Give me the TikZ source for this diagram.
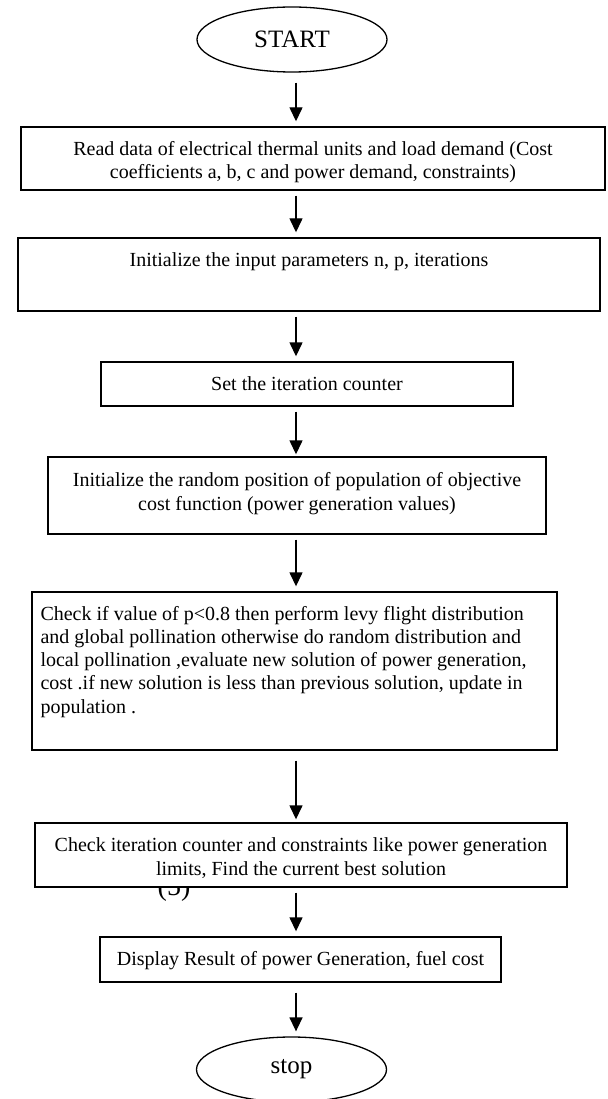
\documentclass[tikz,border=0pt]{standalone}
\usepackage{fontspec}
\setmainfont{Liberation Serif}
\usetikzlibrary{arrows.meta,shapes.geometric}

\newcommand{\boxlines}[3]{\raisebox{#1}[0pt][0pt]{\begin{tabular}[t]{@{}#2@{}}#3\end{tabular}}}

\begin{document}
\begin{tikzpicture}[x=1pt,y=-1pt,
  every node/.style={font=\fontsize{20}{23.3}\selectfont},
  terminal/.style={draw,ellipse,line width=1.3pt,minimum width=190pt,minimum height=65pt,inner sep=0pt,font=\fontsize{25}{30}\selectfont},
  stepbox/.style={draw,rectangle,line width=1.4pt,fill=white,inner sep=0pt},
  arr/.style={-{Triangle[width=13pt,length=14pt]},line width=1.4pt,shorten <=5pt,shorten >=5pt}]

    \useasboundingbox (0,0) rectangle (607,1099);
    \coordinate (axis) at (296,0);

    \node[terminal] (start) at (292,39.5) {START};

    \node[stepbox,minimum width=584pt,minimum height=63pt] (read) at (313,158.5)
        {\boxlines{2.8pt}{c}{Read data of electrical thermal units and load demand (Cost\\
        coefficients a, b, c and power demand, constraints)}};

    \node[stepbox,minimum width=582pt,minimum height=73pt] (init) at (309,274.5)
        {\boxlines{7.8pt}{c}{Initialize the input parameters n, p, iterations}};

    \node[stepbox,minimum width=412pt,minimum height=44pt] (counter) at (307,384)
        {\boxlines{-6pt}{c}{Set the iteration counter}};

    \node[stepbox,minimum width=498pt,minimum height=77pt] (popu) at (297,495.5)
        {\boxlines{8.8pt}{c}{Initialize the random position of population of objective\\
        cost function (power generation values)}};

    \node[stepbox,minimum width=525pt,minimum height=158pt] (pollin) at (294.5,671)
        {\boxlines{51pt}{l}{Check if value of p<0.8 then perform levy flight distribution\\
        and global pollination otherwise do random distribution and\\
        local pollination ,evaluate new solution of power generation,\\
        cost .if new solution is less than previous solution, update in\\
        population .}\rule{22pt}{0pt}};

    % number of the equation, half under the next box
    \node[anchor=base,font=\fontsize{28}{32}\selectfont] (eqno) at (174,895) {(5)};

    \node[stepbox,minimum width=532pt,minimum height=64pt] (check) at (301,855)
        {\boxlines{3.3pt}{c}{Check iteration counter and constraints like power generation\\
        limits, Find the current best solution}};

    \node[stepbox,minimum width=401pt,minimum height=45pt] (result) at (300.5,959.5)
        {\boxlines{-5.5pt}{c}{Display Result of power Generation, fuel cost}};

    \node[terminal] (stop) at (291.5,1069.5) {stop};

    \draw[arr,shorten <=10pt] (start.south -| axis) -- (read.north -| axis);
    \draw[arr] (read.south -| axis) -- (init.north -| axis);
    \draw[arr] (init.south -| axis) -- (counter.north -| axis);
    \draw[arr,shorten >=2pt] (counter.south -| axis) -- (popu.north -| axis);
    \draw[arr] (popu.south -| axis) -- (pollin.north -| axis);
    \draw[arr,shorten <=10pt,shorten >=3pt] (pollin.south -| axis) -- (check.north -| axis);
    \draw[arr] (check.south -| axis) -- (result.north -| axis);
    \draw[arr,shorten <=10pt] (result.south -| axis) -- (stop.north -| axis);

\end{tikzpicture}
\end{document}
